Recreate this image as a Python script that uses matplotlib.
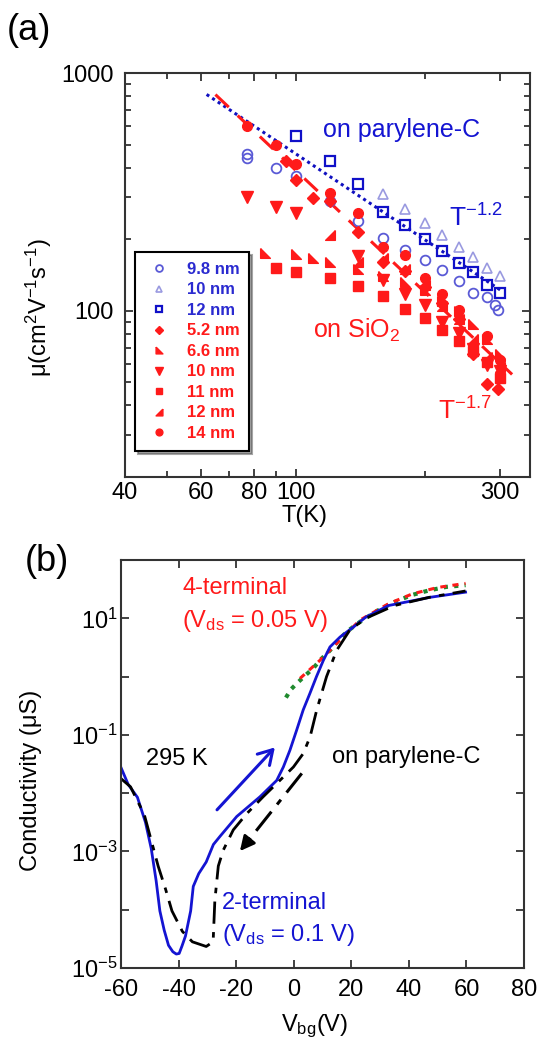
import numpy as np
import matplotlib
matplotlib.use("Agg")
import matplotlib.pyplot as plt
from matplotlib.ticker import FixedLocator, NullFormatter, FuncFormatter

plt.rcParams['font.family'] = ['Liberation Sans', 'DejaVu Sans']
plt.rcParams['mathtext.fontset'] = 'custom'
plt.rcParams['mathtext.rm'] = 'Liberation Sans'
plt.rcParams['mathtext.it'] = 'Liberation Sans:italic'
plt.rcParams['mathtext.bf'] = 'Liberation Sans:bold'
plt.rcParams['axes.unicode_minus'] = False

# ---- panel (a): mobility vs temperature ----
T_98 = [77, 77, 90, 100, 120, 140, 160, 180, 200, 220, 240, 260, 280, 292, 297]
mu_98 = [455, 440, 398, 369, 290, 238, 202, 180, 163, 148, 134, 119, 114, 106, 101]
T_10b = [160, 180, 200, 220, 240, 260, 280, 300]
mu_10b = [310, 267, 235, 209, 186, 168, 151, 140]
T_12b = [100, 120, 140, 160, 180, 200, 220, 240, 260, 280, 300]
mu_12b = [543, 428, 341, 260, 230, 201, 179, 159, 145, 129, 119]

T_52 = [95, 100, 110, 120, 140, 160, 180, 200, 220, 240, 260, 280, 296]
mu_52 = [425, 355, 298, 290, 215, 160, 147, 126, 108, 92, 66, 49, 47]
T_66 = [85, 100, 110, 120, 140, 160, 180, 200, 220, 240, 260, 280, 300]
mu_66 = [175, 174, 167, 161, 150, 140, 132, 122, 110, 100, 88, 76, 66]
T_10r = [77, 90, 100, 140, 160, 180, 200, 220, 240, 260, 280, 300]
mu_10r = [302, 274, 259, 170, 135, 118, 106, 90, 81, 69, 59, 56]
T_11 = [90, 100, 120, 140, 160, 180, 200, 220, 240, 260, 280, 300]
mu_11 = [151, 145, 138, 127, 115, 102, 93, 83, 75, 68, 61, 52]
T_12r = [120, 140, 160, 180, 200, 220, 240, 260, 280, 300]
mu_12r = [208, 160, 166, 150, 128, 105, 92, 76, 64, 58]
T_14 = [77, 90, 100, 120, 140, 160, 180, 200, 220, 240, 280, 300]
mu_14 = [597, 500, 413, 312, 259, 185, 171, 138, 118, 101, 78, 62]

fit_parylene_T = [62, 300]
fit_parylene_A = 1.15e5   # mu = A * T^-1.2
fit_sio2_T = [65, 320]
fit_sio2_A = 9.8e5        # mu = A * T^-1.7

# ---- panel (b): conductivity vs back-gate voltage (log10 of uS) ----
V_2t = [-60, -57.5, -54.3, -51.5, -49.5, -47.8, -46.5, -45, -43.5, -42, -40.8, -39.8,
        -38.8, -37.6, -35.8, -34.9, -33, -30.4, -27.9, -25.6, -19.8, -11.7, -5.9, -3.6,
        -1.3, 1.0, 3.3, 5.6, 7.9, 10.3, 12.6, 16.1, 20.7, 25, 32.9, 47.2, 59.7]
logs_2t = [-1.56, -1.85, -2.07, -2.50, -2.95, -3.5, -4.02, -4.35, -4.61, -4.72, -4.76,
           -4.75, -4.62, -4.45, -4.02, -3.60, -3.38, -3.18, -2.88, -2.74, -2.40, -2.06,
           -1.78, -1.55, -1.26, -0.92, -0.57, -0.29, 0.0, 0.28, 0.51, 0.68, 0.85, 1.02,
           1.22, 1.36, 1.45]
V_2t_rev = [-60, -56.7, -51.9, -47.1, -44.5, -42.3, -38.7, -35.2, -30.4, -28.0, -27.4,
            -26.2, -24.5, -21.0, -16.3, -10.6, -4.8, -0.1, 3.3, 5.7, 8.0, 11.4, 14.9,
            19.5, 25, 35, 47, 59.7]
logs_2t_rev = [-1.75, -1.89, -2.37, -3.25, -3.65, -4.02, -4.37, -4.55, -4.63, -4.55,
               -3.84, -3.25, -2.98, -2.63, -2.35, -2.06, -1.78, -1.55, -1.32, -1.03,
               -0.57, 0.0, 0.45, 0.80, 1.0, 1.22, 1.36, 1.47]
V_4t = [2.2, 9.1, 16.1, 23, 32.9, 41.2, 50, 59.7]
logs_4t = [-0.03, 0.28, 0.63, 0.97, 1.25, 1.42, 1.53, 1.60]
V_4t_g = [-2.7, -1, 1.0, 4, 6.7, 9.5, 12.6, 15.5, 18.4, 23, 29, 35, 41, 47, 53, 59.7]
logs_4t_g = [-0.36, -0.22, -0.12, 0.02, 0.14, 0.30, 0.45, 0.62, 0.77, 0.94, 1.13, 1.28,
             1.40, 1.48, 1.54, 1.57]

blue = '#1414d2'
red = '#ff1a1a'

fig = plt.figure(figsize=(5.39, 10.37), dpi=100)
ax1 = fig.add_axes([0.232, 0.540, 0.751, 0.3896])
ax2 = fig.add_axes([0.2245, 0.0665, 0.7477, 0.3934])

for ax in (ax1, ax2):
    for s in ax.spines.values():
        s.set_linewidth(1.5)
        s.set_color('#333333')
    ax.tick_params(which='both', direction='in', top=True, right=True,
                   width=1.3, color='#333333', labelsize=17)
    ax.tick_params(which='major', length=6)
    ax.tick_params(which='minor', length=4)

# panel (a)
ax1.set_xscale('log')
ax1.set_yscale('log')
ax1.set_xlim(40, 352)
ax1.set_ylim(20, 1000)
ax1.tick_params(axis='y', which='both', pad=8)

tt = np.array(fit_parylene_T, dtype=float)
ax1.plot(tt, fit_parylene_A * tt ** -1.2, ls=(0, (1, 1.2)), color='#1010c0', lw=2.2)
ts = np.array(fit_sio2_T, dtype=float)
ax1.plot(ts, fit_sio2_A * ts ** -1.7, ls=(0, (6, 4)), color=red, lw=2.2)

tri_bl = [(-1, 1), (-1, -1), (1, -1), (-1, 1)]
tri_br = [(1, 1), (1, -1), (-1, -1), (1, 1)]

h = []
h += ax1.plot(T_98, mu_98, 'o', ls='none', ms=7, mfc='none', mec='#5a5ad6', mew=1.3, label='9.8 nm')
h += ax1.plot(T_10b, mu_10b, '^', ls='none', ms=7, mfc='none', mec='#9a9ae0', mew=1.2, label='10 nm')
h += ax1.plot(T_12b, mu_12b, 's', ls='none', ms=6.5, mfc='none', mec='#1010c8', mew=1.6, label='12 nm')
h += ax1.plot(T_52, mu_52, 'D', ls='none', ms=6, color=red, label='5.2 nm')
h += ax1.plot(T_66, mu_66, marker=tri_bl, ls='none', ms=7, color=red, label='6.6 nm')
h += ax1.plot(T_10r, mu_10r, 'v', ls='none', ms=8, color=red, label='10 nm')
h += ax1.plot(T_11, mu_11, 's', ls='none', ms=7, color=red, label='11 nm')
h += ax1.plot(T_12r, mu_12r, marker=tri_br, ls='none', ms=7, color=red, label='12 nm')
h += ax1.plot(T_14, mu_14, 'o', ls='none', ms=7, color=red, label='14 nm')

leg = ax1.legend(handles=h, loc='upper left', bbox_to_anchor=(0.025, 0.557),
                 prop={'weight': 'bold', 'size': 12}, markerscale=0.7,
                 frameon=True, fancybox=False, shadow=True, edgecolor='black',
                 labelspacing=0.33, handletextpad=0.9, handlelength=1.6,
                 borderpad=0.6, borderaxespad=0)
leg.get_frame().set_linewidth(1.5)
for i, txt in enumerate(leg.get_texts()):
    txt.set_color('#2a2ad0' if i < 3 else red)

ax1.xaxis.set_major_locator(FixedLocator([40, 60, 80, 100, 300]))
ax1.xaxis.set_minor_locator(FixedLocator([50, 70, 90, 200]))
ax1.xaxis.set_major_formatter(FuncFormatter(lambda v, p: '%d' % v))
ax1.xaxis.set_minor_formatter(NullFormatter())
ax1.yaxis.set_major_locator(FixedLocator([100, 1000]))
ax1.yaxis.set_minor_locator(FixedLocator([30, 40, 50, 60, 70, 80, 90, 200, 300, 400, 500, 600, 700, 800, 900]))
ax1.yaxis.set_major_formatter(FuncFormatter(lambda v, p: '%d' % v))
ax1.yaxis.set_minor_formatter(NullFormatter())

ax1.set_xlabel('T(K)', fontsize=17)
ax1.xaxis.set_label_coords(0.444, -0.069)
ax1.set_ylabel('\u03bc(cm$^{2}$V$^{-1}$s$^{-1}$)', fontsize=17)
ax1.yaxis.set_label_coords(-0.175, 0.42)

ax1.text(115.7, 537, 'on parylene-C', color=blue, fontsize=18, ha='left', va='baseline')
ax1.text(228, 226, r'T$^{-1.2}$', color=blue, fontsize=19, ha='left', va='baseline')
ax1.text(109.6, 77, r'on SiO$_{2}$', color=red, fontsize=18, ha='left', va='baseline')
ax1.text(215, 34.8, r'T$^{-1.7}$', color=red, fontsize=19, ha='left', va='baseline')

fig.text(0.012, 0.961, '(a)', fontsize=26, ha='left', va='baseline')
fig.text(0.045, 0.449, '(b)', fontsize=26, ha='left', va='baseline')

# panel (b)
ax2.set_yscale('log')
ax2.set_xlim(-60, 80)
ax2.set_ylim(1e-5, 1e2)
ax2.tick_params(axis='x', which='both', pad=8)
ax2.tick_params(axis='y', which='both', pad=2.5)

ax2.plot(V_4t_g, 10.0 ** np.array(logs_4t_g), ls=(0, (1, 1.5)), color='#1f8a2e', lw=3)
ax2.plot(V_4t, 10.0 ** np.array(logs_4t), ls=(0, (2, 2)), color=red, lw=2.2)
ax2.plot(V_2t, 10.0 ** np.array(logs_2t), '-', color=blue, lw=2)
ax2.plot(V_2t_rev, 10.0 ** np.array(logs_2t_rev), ls=(0, (8, 3, 2, 3)), color='black', lw=2)

ax2.annotate('', xy=(-5.9, 10 ** -1.18), xytext=(-27.3, 10 ** -2.32),
             arrowprops=dict(arrowstyle='->, head_length=0.5, head_width=0.3', color=blue, lw=2.2,
                             mutation_scale=20))
ax2.plot([2.8, -16.5], [10 ** -1.66, 10 ** -2.86], ls=(0, (8, 3, 2, 3)), color='black', lw=2.2)
ax2.annotate('', xy=(-19.3, 10 ** -3.03), xytext=(-15.5, 10 ** -2.80),
             arrowprops=dict(arrowstyle='-|>', color='black', lw=2, mutation_scale=22))

ax2.set_xticks([-60, -40, -20, 0, 20, 40, 60, 80])
ax2.yaxis.set_major_locator(FixedLocator([1e-5, 1e-4, 1e-3, 1e-2, 1e-1, 1, 10, 100]))
ax2.yaxis.set_minor_locator(FixedLocator([]))
ax2.yaxis.set_major_formatter(FuncFormatter(
    lambda v, p: r'$\mathregular{10^{%d}}$' % round(np.log10(v)) if round(np.log10(v)) in (-5, -3, -1, 1) else ''))

ax2.set_xlabel(r'V$_{\mathrm{bg}}$(V)', fontsize=17)
ax2.xaxis.set_label_coords(0.48, -0.11)
ax2.set_ylabel('Conductivity (\u03bcS)', fontsize=17)
ax2.yaxis.set_label_coords(-0.196, 0.46)

ax2.text(-38.7, 10 ** 1.42, '4-terminal', color=red, fontsize=17, ha='left', va='baseline')
ax2.text(-38.7, 10 ** 0.86, r'(V$_{\mathrm{ds}}$ = 0.05 V)', color=red, fontsize=17, ha='left', va='baseline')
ax2.text(-51.3, 10 ** -1.52, '295 K', color='black', fontsize=17, ha='left', va='baseline')
ax2.text(13.2, 10 ** -1.49, 'on parylene-C', color='black', fontsize=17, ha='left', va='baseline')
ax2.text(-25, 10 ** -3.99, '2-terminal', color=blue, fontsize=17, ha='left', va='baseline')
ax2.text(-24.9, 10 ** -4.54, r'(V$_{\mathrm{ds}}$ = 0.1 V)', color=blue, fontsize=17, ha='left', va='baseline')

fig.savefig('out.png', dpi=100)
